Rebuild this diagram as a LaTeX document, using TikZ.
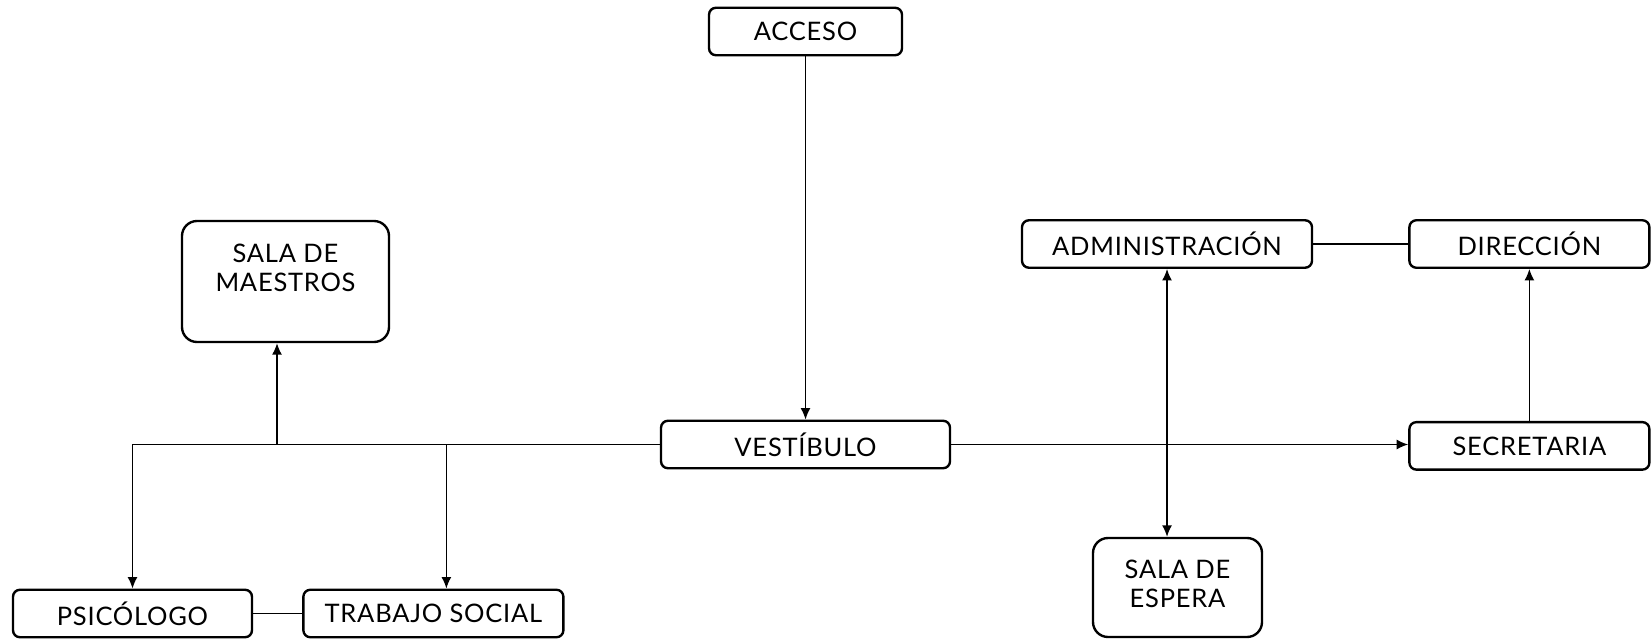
\documentclass[tikz,border=0pt]{standalone}
\usepackage{fontspec}
\setmainfont{Lato}[LetterSpace=3]
\usetikzlibrary{arrows.meta,positioning}

\tikzset{
  room/.style={draw, line width=0.95pt, rounded corners=2.8pt, inner sep=0pt,
    minimum height=19pt, align=center, font=\fontsize{10.2}{11.6}\selectfont},
  hall/.style={room, rounded corners=6pt},
  link/.style={line width=0.6pt},
  flow/.style={link, -{Latex[length=4.6pt,width=4pt]}},
  both/.style={link, {Latex[length=4.6pt,width=4pt]}-{Latex[length=4.6pt,width=4pt]}},
}

\begin{document}
\begin{tikzpicture}[x=0.4pt, y=-0.4pt]
    \useasboundingbox (0,0) rectangle (1651,639);

    % entrada y vestibulo
    \node[room, minimum width=77.2pt] (acceso) at (805.5,31.5) {ACCESO};
    \node[room, minimum width=115.6pt] (vestibulo) at (805.5,444.5) {VESTÍBULO};

    % ala izquierda
    \node[hall, minimum width=82.8pt, text height=28pt, text depth=20.4pt, anchor=base] (maestros) at (285.5,291) {SALA DE\\MAESTROS};
    \node[room, minimum width=95.6pt] (psicologo) at (132.5,613.5) {PSICÓLOGO};
    \node[room, minimum width=104pt, right=19.6pt of psicologo] (trabajo) {TRABAJO SOCIAL};

    % ala derecha
    \node[room, minimum width=116pt] (admin) at (1167,244) {ADMINISTRACIÓN};
    \node[room, minimum width=96pt, right=38pt of admin] (direccion) {DIRECCIÓN};
    \node[room, minimum width=96pt, below=60.8pt of direccion] (secretaria) {SECRETARIA};
    \node[hall, minimum width=67.6pt, text height=27.6pt, text depth=12pt, anchor=base] (espera) at (1177.5,607) {SALA DE\\ESPERA};

    \coordinate (mtap) at ([xshift=-3.4pt]maestros.south);
    \coordinate (ttap) at ([xshift=5.2pt]trabajo.north);

    \draw[flow] (acceso) -- (vestibulo);
    \draw[flow] (vestibulo.west) -| (psicologo);
    \draw[flow] (mtap |- vestibulo.west) -- (mtap);
    \draw[flow] (ttap |- vestibulo.west) -- (ttap);
    \draw[link] (psicologo) -- (trabajo);

    \draw[flow] (vestibulo.east) -- (vestibulo.east -| secretaria.west);
    \draw[flow] (direccion.south |- secretaria.north) -- (direccion.south);
    \draw[link] (admin) -- (direccion);
    \draw[both] (admin.south) -- (admin.south |- espera.north);
\end{tikzpicture}
\end{document}
